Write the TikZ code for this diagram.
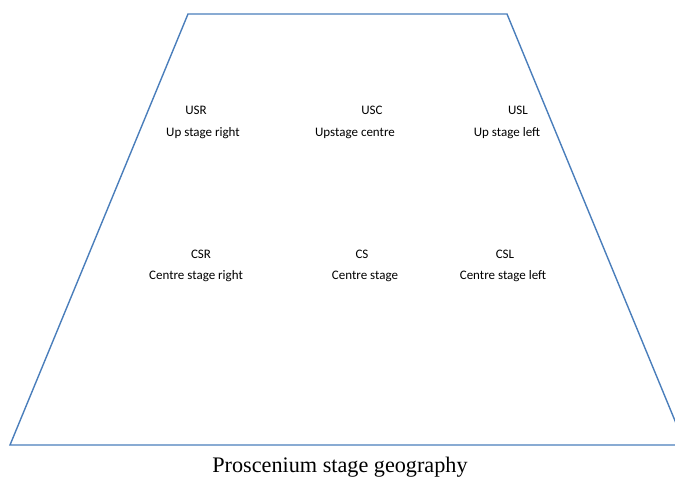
\documentclass[tikz,border=0pt]{standalone}
\usepackage{fontspec}
\setsansfont{Carlito}
\newfontfamily\captionfont{Liberation Serif}
\definecolor{stageblue}{RGB}{74,126,187}
\tikzset{
    abbr/.style={font=\sffamily\fontsize{13}{15}\selectfont, inner sep=0pt},
    fullname/.style={font=\sffamily\fontsize{13}{15}\selectfont, inner sep=0pt},
    stageline/.style={draw=stageblue, line width=1.4pt, line join=miter}
}
\begin{document}
\begin{tikzpicture}[x=1pt,y=-1pt]
\useasboundingbox (0,0) rectangle (675,482);
% stage outline
\coordinate (bl) at (10,445);
\coordinate (tl) at (188,14);
\coordinate (tr) at (507,14);
\coordinate (br) at (685,445);
\draw[stageline] (bl) -- (tl) -- (tr) -- (br) -- cycle;

% upstage
\node[abbr] (usr) at (196,110) {USR};
\node[fullname] (usrtext) at (203,133) {Up stage right};
\node[abbr] (usc) at (372,110) {USC};
\node[fullname] (usctext) at (355,133) {Upstage centre};
\node[abbr] (usl) at (518,110) {USL};
\node[fullname] (usltext) at (507,133) {Up stage left};

% centre stage
\node[abbr] (csr) at (201,254) {CSR};
\node[fullname] (csrtext) at (196,276) {Centre stage right};
\node[abbr] (cs) at (362,254) {CS};
\node[fullname] (cstext) at (365,276) {Centre stage};
\node[abbr] (csl) at (505,254) {CSL};
\node[fullname] (csltext) at (503,276) {Centre stage left};

\node[font=\captionfont\fontsize{22.2}{25}\selectfont, inner sep=0pt] (caption) at (340,467) {Proscenium stage geography};
\end{tikzpicture}
\end{document}
